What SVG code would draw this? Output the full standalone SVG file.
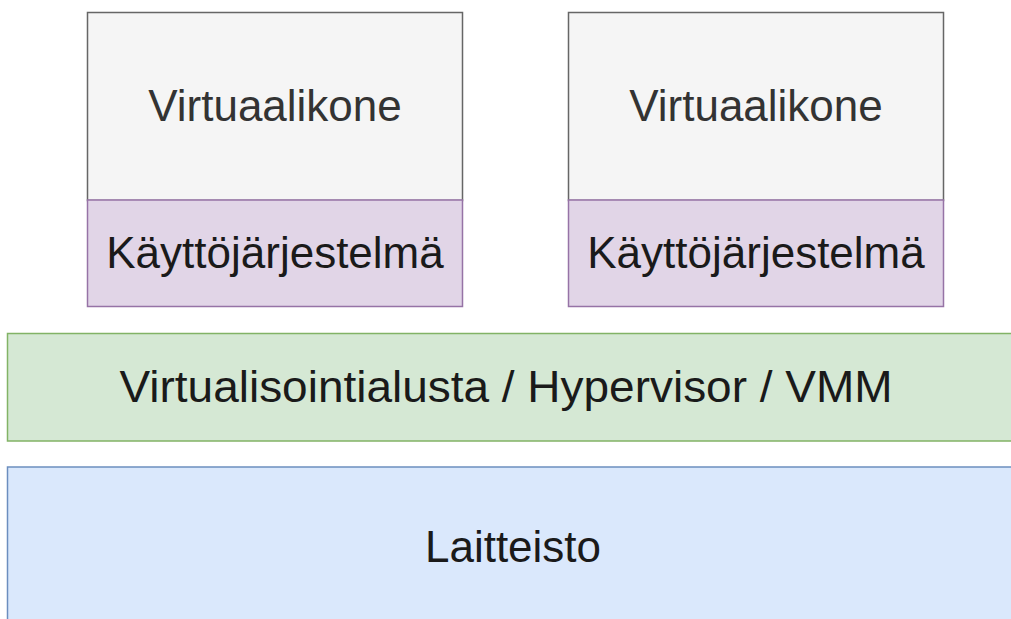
<svg xmlns="http://www.w3.org/2000/svg" width="1011" height="619" viewBox="0 0 1011 619">
<style>
text{font-family:"Liberation Sans",Arial,sans-serif;font-size:44px;text-anchor:middle;dominant-baseline:central}
.vm{fill:#f5f5f5;stroke:#666666;stroke-width:1.5}
.os{fill:#e1d5e7;stroke:#9673a6;stroke-width:1.5}
.hv{fill:#d5e8d4;stroke:#82b366;stroke-width:1.5}
.hw{fill:#dae8fc;stroke:#6c8ebf;stroke-width:1.5}
.t1{fill:#333333}
.t2{fill:#1a1a1a}
</style>
<rect width="1011" height="619" fill="#ffffff"/>
<g id="vm1">
<rect class="vm" x="87.5" y="12.5" width="375" height="188"/>
<text class="t1" x="275" y="105">Virtuaalikone</text>
</g>
<g id="os1">
<rect class="os" x="87.5" y="200" width="375" height="106.5"/>
<text class="t2" x="275" y="252">Käyttöjärjestelmä</text>
</g>
<g id="vm2">
<rect class="vm" x="568.5" y="12.5" width="375" height="188"/>
<text class="t1" x="756" y="105">Virtuaalikone</text>
</g>
<g id="os2">
<rect class="os" x="568.5" y="200" width="375" height="106.5"/>
<text class="t2" x="756" y="252">Käyttöjärjestelmä</text>
</g>
<g id="hypervisor">
<rect class="hv" x="7.5" y="333.5" width="1020" height="107.5"/>
<text class="t2" x="506" y="386" textLength="773" lengthAdjust="spacingAndGlyphs">Virtualisointialusta / Hypervisor / VMM</text>
</g>
<g id="hardware">
<rect class="hw" x="7.5" y="467" width="1020" height="170"/>
<text class="t2" x="513" y="546">Laitteisto</text>
</g>
<g id="connectors"></g>
</svg>
